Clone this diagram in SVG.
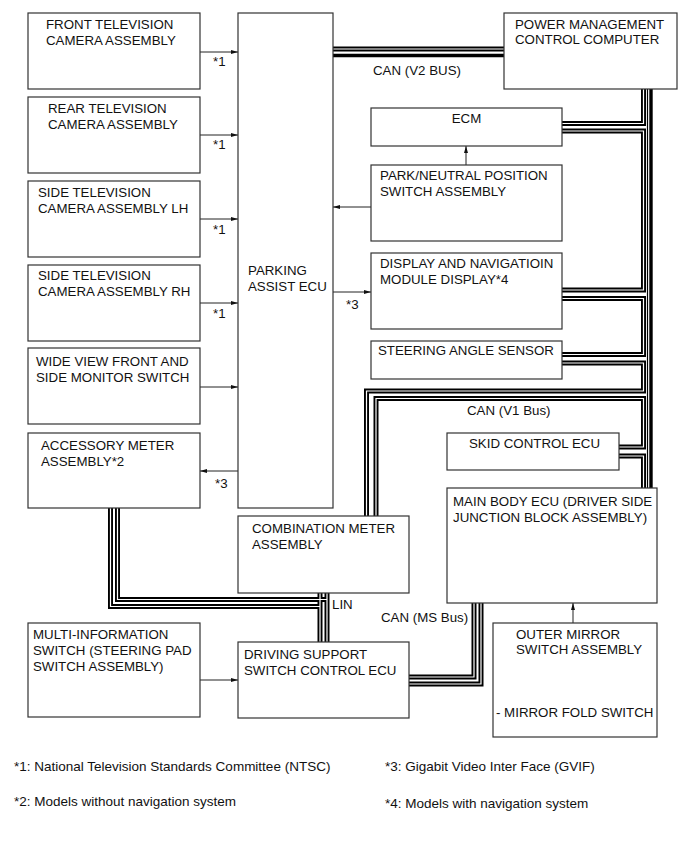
<svg xmlns="http://www.w3.org/2000/svg" xmlns:xlink="http://www.w3.org/1999/xlink" width="691" height="855" viewBox="0 0 691 855">
  <style>
    .box { fill: #fff; stroke: #333; stroke-width: 1.2; }
    .t { font-family: "Liberation Sans", Arial, sans-serif; font-size: 13.3px; fill: #111; }
    .fn { font-family: "Liberation Sans", Arial, sans-serif; font-size: 13.5px; fill: #111; }
    .sig { fill: none; stroke: #222; stroke-width: 1; }
    .wo { fill: none; stroke: #000; stroke-width: 5; stroke-linejoin: miter; }
    .wi { fill: none; stroke: #fff; stroke-width: 1.2; stroke-linejoin: miter; }
    .thick { fill: none; stroke: #000; stroke-width: 3.4; }
    .thin { fill: none; stroke: #000; stroke-width: 1.2; }
  </style>
  <defs>
    <marker id="ah" viewBox="0 0 7 4" refX="7" refY="2" markerWidth="7" markerHeight="4" orient="auto" markerUnits="userSpaceOnUse">
      <path d="M0,0 L7,2 L0,4 z" fill="#111"/>
    </marker>
    <!-- bus wire centerlines -->
    <path id="v2" d="M333,49 H504"/>
    <path id="l1" d="M643.5,89 V123.5 H562"/>
    <path id="l2" d="M562,131 H643.5 V290 H562"/>
    <path id="l3" d="M562,298.5 H643.5 V354.5 H562"/>
    <path id="l4" d="M562,363 H643.5 V391 H366.5 V516"/>
    <path id="l5" d="M376,516 V398.5 H643.5 V447 H619"/>
    <path id="l6" d="M619,456 H643.5 V488"/>
    <path id="acc1" d="M110.5,508 V606.5 H320"/>
    <path id="acc2" d="M117.5,508 V599.5 H327"/>
    <path id="lin1" d="M320,593 V642"/>
    <path id="lin2" d="M327,593 V642"/>
    <path id="ms1" d="M409,677 H474 V603"/>
    <path id="ms2" d="M409,684 H481 V603"/>
  </defs>

  <!-- connectors -->
  <g id="connectors">
    <!-- CAN V2 bus -->
    <use xlink:href="#v2" class="wo"/><use xlink:href="#v2" class="wi"/>
    <line class="thick" x1="333" y1="55.5" x2="504" y2="55.5"/>
    <!-- CAN trunk from power management computer -->
    <line class="thin" x1="647.5" y1="89" x2="647.5" y2="488"/>
    <line class="thick" x1="651" y1="89" x2="651" y2="488"/>
    <!-- daisy-chained CAN wiring -->
    <use xlink:href="#l1" class="wo"/><use xlink:href="#l1" class="wi"/>
    <use xlink:href="#l2" class="wo"/><use xlink:href="#l2" class="wi"/>
    <use xlink:href="#l3" class="wo"/><use xlink:href="#l3" class="wi"/>
    <use xlink:href="#l4" class="wo"/><use xlink:href="#l4" class="wi"/>
    <use xlink:href="#l5" class="wo"/><use xlink:href="#l5" class="wi"/>
    <use xlink:href="#l6" class="wo"/><use xlink:href="#l6" class="wi"/>
    <!-- accessory meter / LIN -->
    <use xlink:href="#acc1" class="wo"/><use xlink:href="#acc2" class="wo"/>
    <use xlink:href="#lin1" class="wo"/><use xlink:href="#lin2" class="wo"/>
    <use xlink:href="#acc1" class="wi"/><use xlink:href="#acc2" class="wi"/>
    <use xlink:href="#lin1" class="wi"/><use xlink:href="#lin2" class="wi"/>
    <!-- CAN MS bus -->
    <use xlink:href="#ms1" class="wo"/><use xlink:href="#ms1" class="wi"/>
    <use xlink:href="#ms2" class="wo"/><use xlink:href="#ms2" class="wi"/>

    <!-- signal lines -->
    <line class="sig" x1="200" y1="52" x2="238" y2="52" marker-end="url(#ah)"/>
    <line class="sig" x1="200" y1="135" x2="238" y2="135" marker-end="url(#ah)"/>
    <line class="sig" x1="200" y1="219" x2="238" y2="219" marker-end="url(#ah)"/>
    <line class="sig" x1="200" y1="303" x2="238" y2="303" marker-end="url(#ah)"/>
    <line class="sig" x1="200" y1="387" x2="238" y2="387" marker-end="url(#ah)"/>
    <line class="sig" x1="238" y1="471" x2="200" y2="471" marker-end="url(#ah)"/>
    <line class="sig" x1="371" y1="207" x2="333" y2="207" marker-end="url(#ah)"/>
    <line class="sig" x1="333" y1="292" x2="371" y2="292" marker-end="url(#ah)"/>
    <line class="sig" x1="466" y1="165" x2="466" y2="146" marker-end="url(#ah)"/>
    <line class="sig" x1="200" y1="680" x2="238" y2="680" marker-end="url(#ah)"/>
    <line class="sig" x1="573" y1="623" x2="573" y2="603" marker-end="url(#ah)"/>

    <text class="t" x="213" y="66">*1</text>
    <text class="t" x="213" y="149">*1</text>
    <text class="t" x="213" y="234">*1</text>
    <text class="t" x="213" y="318">*1</text>
    <text class="t" x="215" y="488">*3</text>
    <text class="t" x="346" y="309">*3</text>
    <text class="t" x="373" y="74.5">CAN (V2 BUS)</text>
    <text class="t" x="467" y="415">CAN (V1 Bus)</text>
    <text class="t" x="332" y="609">LIN</text>
    <text class="t" x="381" y="622">CAN (MS Bus)</text>
  </g>

  <g id="front-camera">
    <rect class="box" x="28" y="13" width="172" height="76"/>
    <text class="t" x="46" y="29">FRONT TELEVISION</text>
    <text class="t" x="46" y="44.5">CAMERA ASSEMBLY</text>
  </g>
  <g id="rear-camera">
    <rect class="box" x="28" y="97" width="172" height="76"/>
    <text class="t" x="48" y="113">REAR TELEVISION</text>
    <text class="t" x="48" y="129">CAMERA ASSEMBLY</text>
  </g>
  <g id="side-camera-lh">
    <rect class="box" x="28" y="181" width="172" height="76"/>
    <text class="t" x="38" y="197">SIDE TELEVISION</text>
    <text class="t" x="38" y="213">CAMERA ASSEMBLY LH</text>
  </g>
  <g id="side-camera-rh">
    <rect class="box" x="28" y="265" width="172" height="76"/>
    <text class="t" x="38" y="280">SIDE TELEVISION</text>
    <text class="t" x="38" y="296">CAMERA ASSEMBLY RH</text>
  </g>
  <g id="wide-view-switch">
    <rect class="box" x="28" y="348" width="172" height="76"/>
    <text class="t" x="36" y="366">WIDE VIEW FRONT AND</text>
    <text class="t" x="36" y="382">SIDE MONITOR SWITCH</text>
  </g>
  <g id="accessory-meter">
    <rect class="box" x="28" y="433" width="172" height="75"/>
    <text class="t" x="41" y="450">ACCESSORY METER</text>
    <text class="t" x="41" y="466">ASSEMBLY*2</text>
  </g>
  <g id="multi-information-switch">
    <rect class="box" x="28" y="623" width="172" height="94"/>
    <text class="t" x="33" y="638.5">MULTI-INFORMATION</text>
    <text class="t" x="33" y="654.5">SWITCH (STEERING PAD</text>
    <text class="t" x="33" y="670.5">SWITCH ASSEMBLY)</text>
  </g>
  <g id="parking-assist-ecu">
    <rect class="box" x="238" y="13" width="95" height="495"/>
    <text class="t" x="248" y="275">PARKING</text>
    <text class="t" x="248" y="291">ASSIST ECU</text>
  </g>
  <g id="combination-meter">
    <rect class="box" x="238" y="516" width="171" height="77"/>
    <text class="t" x="252" y="533">COMBINATION METER</text>
    <text class="t" x="252" y="549">ASSEMBLY</text>
  </g>
  <g id="driving-support-ecu">
    <rect class="box" x="238" y="642" width="171" height="76"/>
    <text class="t" x="244" y="659">DRIVING SUPPORT</text>
    <text class="t" x="244" y="674.5">SWITCH CONTROL ECU</text>
  </g>
  <g id="power-management">
    <rect class="box" x="504" y="13" width="173" height="76"/>
    <text class="t" x="515" y="28.5">POWER MANAGEMENT</text>
    <text class="t" x="515" y="44">CONTROL COMPUTER</text>
  </g>
  <g id="ecm">
    <rect class="box" x="371" y="108" width="191" height="38"/>
    <text class="t" x="466.5" y="123" text-anchor="middle">ECM</text>
  </g>
  <g id="park-neutral-switch">
    <rect class="box" x="371" y="165" width="191" height="76"/>
    <text class="t" x="380" y="180">PARK/NEUTRAL POSITION</text>
    <text class="t" x="380" y="196">SWITCH ASSEMBLY</text>
  </g>
  <g id="display-navigation">
    <rect class="box" x="371" y="253" width="191" height="76"/>
    <text class="t" x="380" y="268">DISPLAY AND NAVIGATIOIN</text>
    <text class="t" x="380" y="283.5">MODULE DISPLAY*4</text>
  </g>
  <g id="steering-angle-sensor">
    <rect class="box" x="371" y="341" width="191" height="38"/>
    <text class="t" x="378" y="355">STEERING ANGLE SENSOR</text>
  </g>
  <g id="skid-control-ecu">
    <rect class="box" x="447" y="433" width="172" height="37"/>
    <text class="t" x="469" y="447.5">SKID CONTROL ECU</text>
  </g>
  <g id="main-body-ecu">
    <rect class="box" x="447" y="488" width="210" height="115"/>
    <text class="t" x="453" y="506">MAIN BODY ECU (DRIVER SIDE</text>
    <text class="t" x="453" y="522">JUNCTION BLOCK ASSEMBLY)</text>
  </g>
  <g id="outer-mirror-switch">
    <rect class="box" x="493" y="623" width="164" height="114"/>
    <text class="t" x="516" y="638.5">OUTER MIRROR</text>
    <text class="t" x="516" y="654">SWITCH ASSEMBLY</text>
    <text class="t" x="496" y="717">- MIRROR FOLD SWITCH</text>
  </g>

  <g id="footnotes">
    <text class="fn" x="14" y="771">*1: National Television Standards Committee (NTSC)</text>
    <text class="fn" x="385" y="771">*3: Gigabit Video Inter Face (GVIF)</text>
    <text class="fn" x="14" y="806">*2: Models without navigation system</text>
    <text class="fn" x="385" y="808">*4: Models with navigation system</text>
  </g>
</svg>
